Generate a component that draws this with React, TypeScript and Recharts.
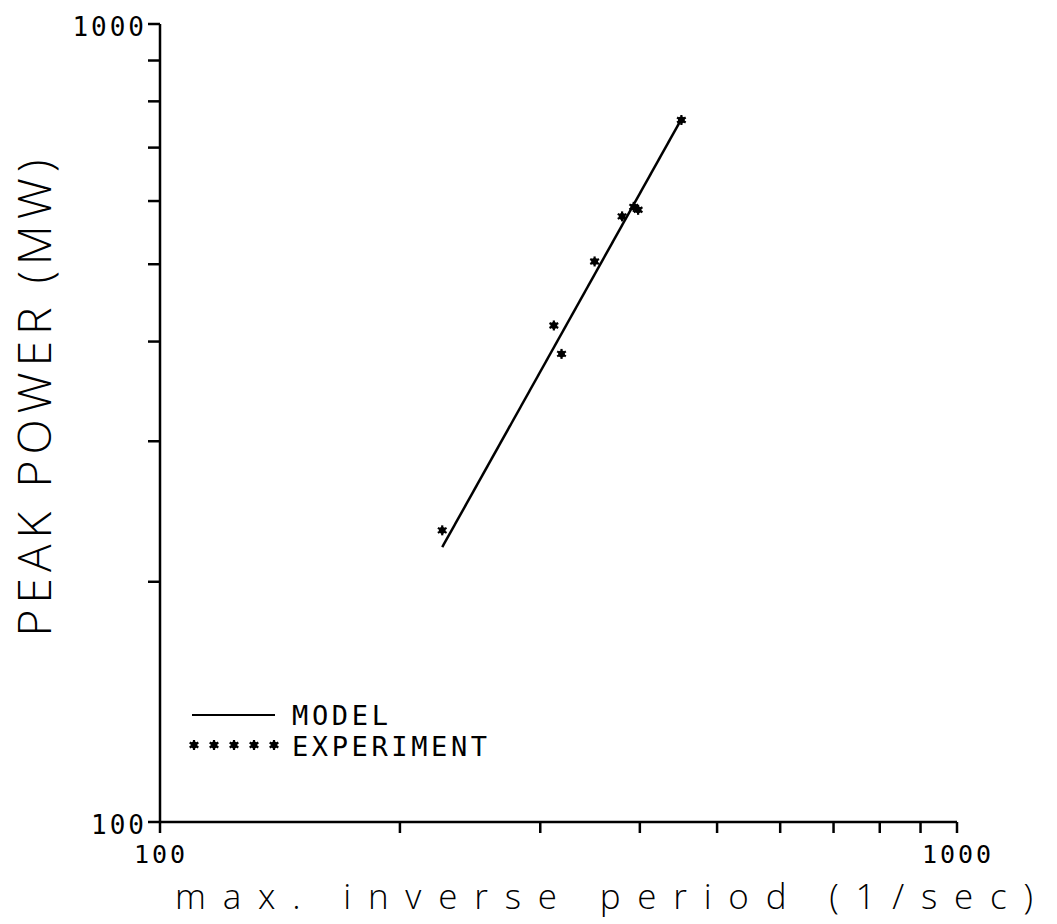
import React from 'react'
import {
  ScatterChart,
  Scatter,
  XAxis,
  YAxis,
  Label,
  Legend,
} from 'recharts'

// inverse period (1/sec) and peak power (MW) of the measured shots
const experimentX = [226, 312, 319, 351, 380, 393, 398, 451]
const experimentY = [232, 419, 386, 504, 574, 590, 585, 758]

// model fit, straight line on log-log axes
const modelX = [226, 451]
const modelY = [221, 760]

const xTicks = [100, 200, 300, 400, 500, 600, 700, 800, 900, 1000]
const yTicks = [100, 200, 300, 400, 500, 600, 700, 800, 900, 1000]
const labelledTicks = [100, 1000]

const xTitle = 'max. inverse period (1/sec)'
const yTitle = 'PEAK POWER (MW)'
const legendModel = 'MODEL'
const legendExperiment = 'EXPERIMENT'

const experimentData = experimentX.map((x, i) => ({ x, y: experimentY[i] }))
const modelData = modelX.map((x, i) => ({ x, y: modelY[i] }))

const MONO = '"DejaVu Sans Mono", "Liberation Mono", monospace'
const THIN = '"Open Sans", "Lato", "DejaVu Sans", sans-serif'

function Star({ cx, cy }: { cx?: number; cy?: number }) {
  if (cx == null || cy == null) return null
  const r = 5
  return (
    <g stroke="#000" strokeWidth={2.2} fill="#000">
      <line x1={cx} y1={cy - r} x2={cx} y2={cy + r} />
      <line x1={cx - r * 0.87} y1={cy - r / 2} x2={cx + r * 0.87} y2={cy + r / 2} />
      <line x1={cx - r * 0.87} y1={cy + r / 2} x2={cx + r * 0.87} y2={cy - r / 2} />
      <circle cx={cx} cy={cy} r={2.3} />
    </g>
  )
}

function NoDot() {
  return <g />
}

function YTick(props: any) {
  const { x, y, payload } = props
  if (!labelledTicks.includes(payload.value)) return null
  return (
    <text
      x={x + 1}
      y={y + 12}
      textAnchor="end"
      fontFamily={MONO}
      fontSize={26}
      letterSpacing={3}
      fill="#000"
    >
      {payload.value}
    </text>
  )
}

function XTick(props: any) {
  const { x, y, payload } = props
  if (!labelledTicks.includes(payload.value)) return null
  return (
    <text
      x={x + 1}
      y={y + 28}
      textAnchor="middle"
      fontFamily={MONO}
      fontSize={25}
      letterSpacing={3}
      fill="#000"
    >
      {payload.value}
    </text>
  )
}

function XTitle(props: any) {
  const { viewBox } = props
  return (
    <text
      x={viewBox.x + 15}
      y={viewBox.y + 87}
      textLength={858}
      lengthAdjust="spacing"
      fontFamily={THIN}
      fontWeight={300}
      fontSize={35}
      fill="#000"
    >
      {xTitle}
    </text>
  )
}

function YTitle() {
  // baseline on the right of the rotated caps
  const bx = 43
  const cy = 390
  return (
    <text
      x={bx}
      y={cy}
      transform={`rotate(-90 ${bx} ${cy})`}
      textAnchor="middle"
      textLength={477}
      lengthAdjust="spacing"
      fontFamily={THIN}
      fontWeight={300}
      fontSize={46}
      fill="#000"
    >
      {yTitle}
    </text>
  )
}

function LegendBox() {
  const stars = [0, 1, 2, 3, 4]
  return (
    <svg width={330} height={70}>
      <line x1={4} y1={17} x2={87} y2={17} stroke="#000" strokeWidth={2} />
      {stars.map((i) => (
        <Star key={i} cx={6 + i * 20} cy={47} />
      ))}
      <text
        x={104}
        y={27}
        textLength={96}
        lengthAdjust="spacing"
        fontFamily={MONO}
        fontSize={27}
        fill="#000"
      >
        {legendModel}
      </text>
      <text
        x={104}
        y={58}
        textLength={195}
        lengthAdjust="spacing"
        fontFamily={MONO}
        fontSize={27}
        fill="#000"
      >
        {legendExperiment}
      </text>
    </svg>
  )
}

export default function App() {
  return (
    <div style={{ width: 1049, height: 916, background: '#fff' }}>
      <ScatterChart
        width={1049}
        height={916}
        margin={{ top: 16, right: 100, left: 92, bottom: 62 }}
      >
        <XAxis
          type="number"
          dataKey="x"
          scale="log"
          domain={[100, 1000]}
          ticks={xTicks}
          interval={0}
          allowDataOverflow
          height={40}
          tickSize={11}
          tick={<XTick />}
          stroke="#000"
          strokeWidth={2.5}
        >
          <Label content={<XTitle />} />
        </XAxis>
        <YAxis
          type="number"
          dataKey="y"
          scale="log"
          domain={[100, 1000]}
          ticks={yTicks}
          interval={0}
          allowDataOverflow
          width={60}
          tickSize={12}
          tick={<YTick />}
          stroke="#000"
          strokeWidth={2.5}
        >
          <Label content={<YTitle />} />
        </YAxis>
        <Legend
          layout="vertical"
          align="center"
          verticalAlign="middle"
          wrapperStyle={{ left: 180, top: 690, width: 330 }}
          content={<LegendBox />}
        />
        <Scatter
          name="model"
          data={modelData}
          line={{ stroke: '#000', strokeWidth: 2.5 }}
          shape={<NoDot />}
          isAnimationActive={false}
        />
        <Scatter
          name="experiment"
          data={experimentData}
          shape={<Star />}
          isAnimationActive={false}
        />
      </ScatterChart>
    </div>
  )
}
